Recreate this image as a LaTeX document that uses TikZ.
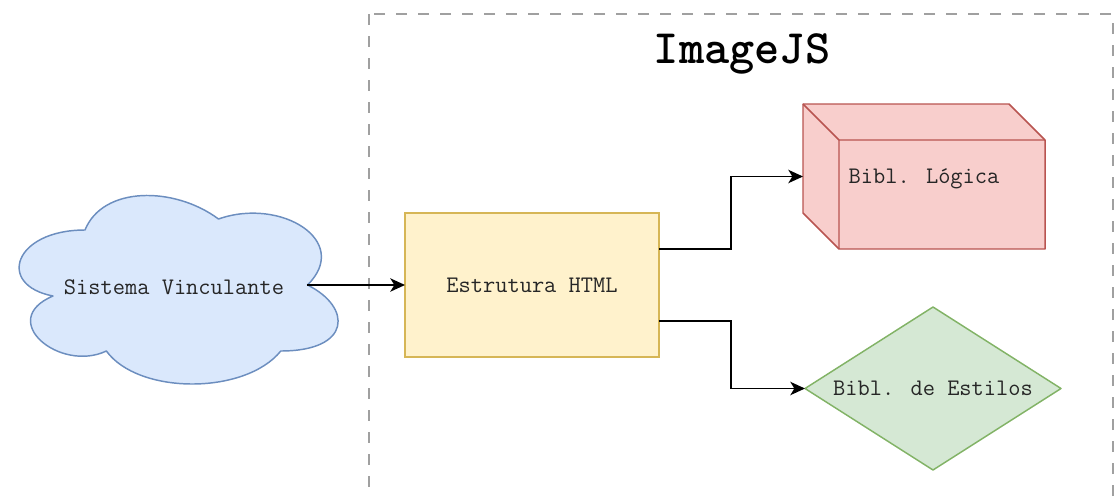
\documentclass[tikz,border=0pt]{standalone}
\usepackage{fontspec}
\usetikzlibrary{calc,arrows.meta}

\definecolor{cloudfill}{HTML}{DAE8FC}
\definecolor{cloudline}{HTML}{6C8EBF}
\definecolor{boxfill}{HTML}{FFF2CC}
\definecolor{boxline}{HTML}{D6B656}
\definecolor{cubefill}{HTML}{F8CECC}
\definecolor{cubeline}{HTML}{B85450}
\definecolor{diafill}{HTML}{D5E8D4}
\definecolor{dialine}{HTML}{82B366}
\definecolor{framegray}{HTML}{A0A0A0}

\tikzset{
  label text/.style={font=\ttfamily\fontsize{17.8pt}{20pt}\selectfont, text=black!85},
  shapebox/.style={inner sep=0pt, outer sep=0pt, label text},
  shapeline/.style={line width=1.1pt, line join=round},
  conn/.style={line width=1.4pt, -{Stealth[length=11pt, width=10pt, inset=3pt]}},
  frame/.style={draw=framegray, line width=1.8pt, dash pattern=on 8.25pt off 8.25pt},
}

\begin{document}
\begin{tikzpicture}[x=0.75pt, y=-0.75pt]
  \useasboundingbox (0,0) rectangle (1116,496);

  % container
  \draw[frame] (369,14) rectangle (1113,499);
  \node[anchor=base, font=\ttfamily\bfseries\fontsize{36pt}{40pt}\selectfont] (title) at (742,63) {ImageJS};

  % nodes (text holders; outlines drawn below)
  \node[shapebox, minimum width=199.5pt, minimum height=112.5pt] (cloud) at (174,285) {};
  \node[shapebox, draw=boxline, fill=boxfill, line width=1.1pt,
        minimum width=190.5pt, minimum height=108pt] (html) at (532,285) {Estrutura HTML};
  \node[shapebox, minimum width=181.5pt, minimum height=108.75pt] (cube) at (924,176.5) {};
  \node[shapebox, minimum width=192pt, minimum height=122.25pt] (dia) at (933,388.5) {};

  % cloud outline
  \draw[shapeline, draw=cloudline, fill=cloudfill,
        shift={(cloud.center)}, xscale=356, yscale=220, shift={(-0.5,-0.5)}]
    (0.25,0.25) .. controls (0.05,0.25) and (0,0.5) .. (0.16,0.55)
    .. controls (0,0.66) and (0.18,0.9) .. (0.31,0.8)
    .. controls (0.4,1) and (0.7,1) .. (0.8,0.8)
    .. controls (1,0.8) and (1,0.6) .. (0.875,0.5)
    .. controls (1,0.3) and (0.8,0.1) .. (0.625,0.2)
    .. controls (0.5,0.05) and (0.3,0.05) .. (0.25,0.25) -- cycle;
  \node[label text] at ([yshift=-1.5pt]cloud.center) {Sistema Vinculante};

  % cube outline
  \draw[shapeline, draw=cubeline, fill=cubefill]
    (cube.north west) -- ([xshift=-27pt]cube.north east) -- ([yshift=-27pt]cube.north east)
    -- (cube.south east) -- ([xshift=27pt]cube.south west) -- ([yshift=27pt]cube.south west) -- cycle;
  \draw[shapeline, draw=cubeline]
    (cube.north west) -- ++(27pt,-27pt) coordinate (fc) -- ([yshift=-27pt]cube.north east)
    (fc) -- ([xshift=27pt]cube.south west);
  \node[label text] at ([yshift=-2pt]cube.center) {Bibl. Lógica};

  % diamond outline
  \draw[shapeline, draw=dialine, fill=diafill]
    (dia.north) -- (dia.east) -- (dia.south) -- (dia.west) -- cycle;
  \node[label text] at (dia.center) {Bibl. de Estilos};

  % connectors
  \coordinate (mid) at ($(html.east)!0.5!(cube.west)$);
  \draw[conn] (cloud.east) -- (html.west);
  \draw[conn] ($(html.north east)!0.25!(html.south east)$) coordinate (o1)
    -- (o1 -| mid) |- (cube.west);
  \draw[conn] ($(html.north east)!0.75!(html.south east)$) coordinate (o2)
    -- (o2 -| mid) |- (dia.west);
\end{tikzpicture}
\end{document}
